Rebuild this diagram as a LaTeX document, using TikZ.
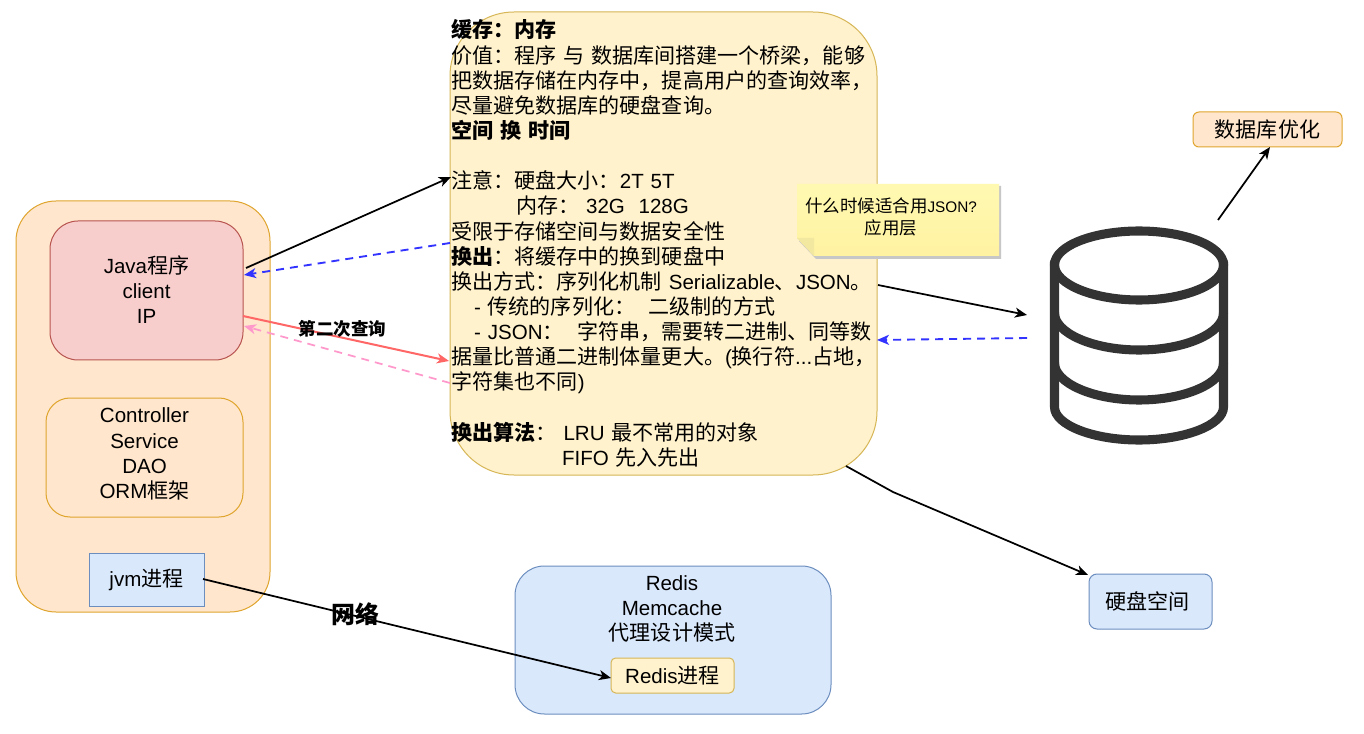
\documentclass[tikz,border=0pt]{standalone}
\usepackage{fontspec}
\setmainfont{Liberation Sans}
\newfontfamily\cjk[Scale=1.025]{Noto Sans CJK SC}
\newcommand{\zh}[1]{{\cjk #1}}
\usetikzlibrary{arrows.meta}
\definecolor{oF}{HTML}{FFE6CC}\definecolor{oS}{HTML}{E0A52E}
\definecolor{rF}{HTML}{F8CECC}\definecolor{rS}{HTML}{B85450}
\definecolor{bF}{HTML}{DAE8FC}\definecolor{bS}{HTML}{6C8EBF}
\definecolor{yF}{HTML}{FFF2CC}\definecolor{yS}{HTML}{D6B656}
\definecolor{dbc}{HTML}{333333}
\definecolor{noteTop}{HTML}{FFF9B2}\definecolor{noteBot}{HTML}{FFF2A1}\definecolor{noteFold}{HTML}{F2E8A0}
\tikzset{
 x=0.75pt,y=-0.75pt,
 txt/.style={font=\fontsize{15.4}{18.86}\selectfont,align=center,inner sep=0pt},
 box/.style={txt,draw,line width=0.75pt},
 orangebox/.style={box,fill=oF,draw=oS},
 redbox/.style={box,fill=rF,draw=rS},
 bluebox/.style={box,fill=bF,draw=bS},
 yellowbox/.style={box,fill=yF,draw=yS},
 tip/.style={-{Stealth[length=9pt,width=7.5pt,inset=2.5pt]}},
 conn/.style={tip,line width=1.3pt,black},
 blueconn/.style={tip,line width=1.4pt,color={rgb,255:red,51;green,51;blue,255},dash pattern=on 6pt off 4.5pt},
 redconn/.style={tip,line width=1.5pt,color={rgb,255:red,255;green,102;blue,102}},
 pinkconn/.style={tip,line width=1.3pt,color={rgb,255:red,255;green,153;blue,204},dash pattern=on 6pt off 4.5pt},
 dbline/.style={draw=dbc,line width=6.8pt,line cap=round},
}
\begin{document}
\begin{tikzpicture}
\useasboundingbox (0,0) rectangle (1364,734);
\fill[white] (0,0) rectangle (1364,734);

% client group
\node[orangebox,minimum width=190.5pt,minimum height=308.25pt,rounded corners=30pt] (group) at (143,406.5) {};
\node[redbox,minimum width=144.75pt,minimum height=104.25pt,rounded corners=21pt] (java) at (146.5,290.5) {};
\node[txt] (javatext) at (146.5,289.5) {Java\zh{程序}\\client\\IP};
\node[orangebox,minimum width=147.75pt,minimum height=89.25pt,rounded corners=18pt] (ctrl) at (144.5,457.5) {};
\node[txt] (ctrltext) at (144.5,454) {Controller\\Service\\DAO\\ORM\zh{框架}};
\node[bluebox,minimum width=86.25pt,minimum height=39.75pt] (jvm) at (146.5,579.5) {jvm\zh{进程}};

% cache box
\node[yellowbox,minimum width=320.25pt,minimum height=347.25pt,rounded corners=48pt,text width=318pt,align=left] (cache) at (663.5,243.5) {%
{\bfseries\zh{缓存：内存}}\\
\zh{价值：程序 与 数据库间搭建一个桥梁，能够}\\
\zh{把数据存储在内存中，提高用户的查询效率，}\\
\zh{尽量避免数据库的硬盘查询。}\\
{\bfseries\zh{空间 换 时间}}\\
\mbox{}\\
\zh{注意：硬盘大小：}2T 5T\\
\hspace*{48.5pt}\zh{内存：} 32G\ \ 128G\\
\zh{受限于存储空间与数据安全性}\\
{\bfseries\zh{换出}}\zh{：将缓存中的换到硬盘中}\\
\zh{换出方式：序列化机制} Serializable\zh{、}JSON\zh{。}\\
\hspace*{17pt}- \zh{传统的序列化：}\ \ \zh{二级制的方式}\\
\hspace*{17pt}- JSON\zh{：}\ \ \zh{字符串，需要转二进制、同等数}\\
\zh{据量比普通二进制体量更大。}(\zh{换行符}...\zh{占地，}\\
\zh{字符集也不同}) \\
\mbox{}\\
{\bfseries\zh{换出算法}}\zh{：} LRU \zh{最不常用的对象}\\
\hspace*{83pt}FIFO \zh{先入先出}};

% sticky note
\fill[black!22] (799,186) -- (1001,186) -- (1001,259) -- (816,259) -- (799,241) -- cycle;
\path[top color=noteTop,bottom color=noteBot] (797,184) -- (999,184) -- (999,256) -- (814,256) -- (797,238) -- cycle;
\fill[noteFold] (797,238) -- (814,238) -- (814,256) -- cycle;
\node[txt,font=\fontsize{12.8}{16}\selectfont] (note) at (891,217) {\zh{什么时候适合用}{\fontsize{11.5}{16}\selectfont JSON?}\\\zh{应用层}};

% database icon
\draw[dbline] (1139,231) .. controls (1185,231) and (1223.5,246) .. (1223.5,265) .. controls (1223.5,284) and (1185,300) .. (1139,300) .. controls (1093,300) and (1054.5,284) .. (1054.5,265) .. controls (1054.5,246) and (1093,231) .. (1139,231) -- cycle;
\draw[dbline] (1054.5,262) -- (1054.5,407) .. controls (1054.5,425) and (1093,440) .. (1139,440) .. controls (1185,440) and (1223.5,425) .. (1223.5,407) -- (1223.5,262);
\draw[dbline] (1054.5,313) .. controls (1054.5,333) and (1093,350) .. (1139,350) .. controls (1185,350) and (1223.5,333) .. (1223.5,313);
\draw[dbline] (1054.5,363) .. controls (1054.5,383) and (1093,400) .. (1139,400) .. controls (1185,400) and (1223.5,383) .. (1223.5,363);

% other boxes
\node[orangebox,minimum width=111.75pt,minimum height=26.25pt,rounded corners=4.5pt] (opt) at (1267.5,129.5) {\zh{数据库优化}};
\node[bluebox,minimum width=92.25pt,minimum height=41.25pt,rounded corners=6pt] (disk) at (1150.5,601.5) {\zh{硬盘空间}\hspace*{4.5pt}};
\node[bluebox,minimum width=237pt,minimum height=111pt,rounded corners=22pt] (redis) at (673,640) {};
\node[txt] (redistext) at (672,609) {Redis\\Memcache\\\zh{代理设计模式}};
\node[yellowbox,minimum width=92.25pt,minimum height=26.25pt,rounded corners=3.5pt] (rproc) at (672.5,675.5) {Redis\zh{进程}};

% free connector ends
\coordinate (a1) at (246,268); \coordinate (a2) at (451,177);
\coordinate (b1) at (450,243); \coordinate (b2) at (244,275);
\coordinate (c1) at (243,316); \coordinate (c2) at (449,361);
\coordinate (d1) at (450,383); \coordinate (d2) at (244,326);
\coordinate (e1) at (878,285); \coordinate (e2) at (1027,315);
\coordinate (f1) at (1027,338); \coordinate (f2) at (877,340);
\coordinate (g1) at (1218,220); \coordinate (g2) at (1270,147);
\coordinate (h1) at (846,466); \coordinate (hm) at (893,492); \coordinate (h2) at (1088,575);
\coordinate (i1) at (203,579); \coordinate (i2) at (611,678);

\draw[conn] (a1) -- (a2);
\draw[blueconn] (b1) -- (b2);
\draw[redconn] (c1) -- (c2);
\draw[pinkconn] (d1) -- (d2);
\draw[conn] (e1) -- (e2);
\draw[blueconn] (f1) -- (f2);
\draw[conn] (g1) -- (g2);
\draw[conn] (h1) -- (hm) -- (h2);
\draw[conn] (i1) -- (i2);

\node[txt,font=\fontsize{12.8}{14}\selectfont\bfseries] (l1) at (342.5,329) {\zh{第二次查询}};
\node[txt,font=\fontsize{17.5}{20}\selectfont\bfseries] (l2) at (355,614) {\zh{网络}};
\end{tikzpicture}
\end{document}
